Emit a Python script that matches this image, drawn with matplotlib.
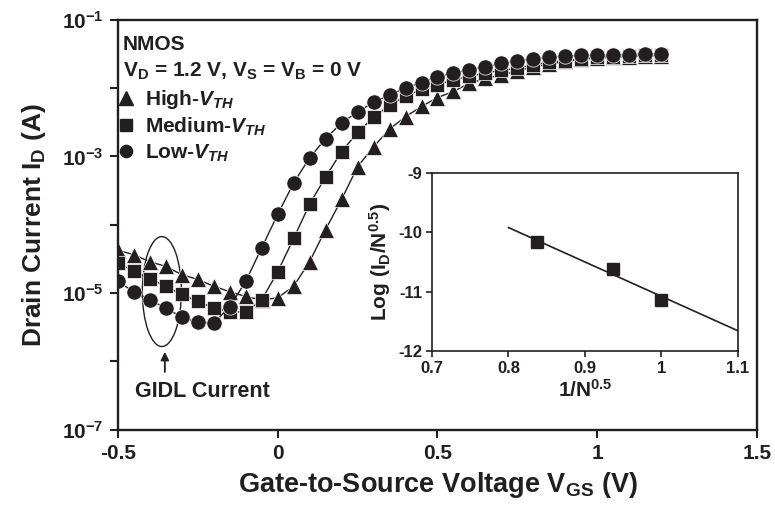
import numpy as np
import matplotlib
matplotlib.use("Agg")
import matplotlib.pyplot as plt
from matplotlib.lines import Line2D
from matplotlib.patches import Ellipse

plt.rcParams['font.family'] = ['Liberation Sans', 'DejaVu Sans']
plt.rcParams['font.weight'] = 'bold'
plt.rcParams['axes.labelweight'] = 'bold'
plt.rcParams['axes.unicode_minus'] = False
plt.rcParams['mathtext.fontset'] = 'custom'
plt.rcParams['mathtext.rm'] = 'Liberation Sans:bold'
plt.rcParams['mathtext.bf'] = 'Liberation Sans:bold'
plt.rcParams['mathtext.sf'] = 'Liberation Sans:bold'
plt.rcParams['mathtext.it'] = 'Liberation Sans:italic:bold'

INK = '#231f20'

# ---- data (main plot) ----
vgs = [-0.5, -0.45, -0.4, -0.35, -0.3, -0.25, -0.2, -0.15, -0.1, -0.05,
       0.0, 0.05, 0.1, 0.15, 0.2, 0.25, 0.3, 0.35, 0.4, 0.45,
       0.5, 0.55, 0.6, 0.65, 0.7, 0.75, 0.8, 0.85, 0.9, 0.95,
       1.0, 1.05, 1.1, 1.15, 1.2]
# log10 of drain current (A)
log_id_high = [-4.37, -4.44, -4.54, -4.61, -4.73, -4.80, -4.90, -4.98, -5.05, -5.10,
               -5.07, -4.90, -4.54, -4.07, -3.63, -3.15, -2.86, -2.60, -2.42, -2.27,
               -2.14, -2.05, -1.93, -1.86, -1.81, -1.75, -1.69, -1.65, -1.61, -1.58,
               -1.56, -1.55, -1.54, -1.53, -1.53]
log_id_medium = [-4.56, -4.68, -4.79, -4.90, -5.02, -5.12, -5.22, -5.27, -5.28, -5.10,
                 -4.69, -4.20, -3.70, -3.30, -2.93, -2.65, -2.43, -2.25, -2.12, -2.02,
                 -1.95, -1.88, -1.83, -1.78, -1.74, -1.71, -1.66, -1.62, -1.60, -1.57,
                 -1.55, -1.54, -1.53, -1.51, -1.51]
log_id_low = [-4.83, -4.98, -5.10, -5.22, -5.35, -5.43, -5.44, -5.20, -4.83, -4.34,
              -3.85, -3.39, -3.02, -2.74, -2.51, -2.35, -2.21, -2.10, -2.00, -1.92,
              -1.84, -1.78, -1.73, -1.69, -1.64, -1.60, -1.57, -1.55, -1.53, -1.52,
              -1.52, -1.51, -1.51, -1.50, -1.50]
series_labels = ['High-$V_{TH}$', 'Medium-$V_{TH}$', 'Low-$V_{TH}$']

x_ticks = [-0.5, 0, 0.5, 1, 1.5]
x_tick_labels = ['-0.5', '0', '0.5', '1', '1.5']
y_ticks = [1e-7, 1e-6, 1e-5, 1e-4, 1e-3, 1e-2, 1e-1]
y_tick_labels = [r'$\mathdefault{10^{-7}}$', '', r'$\mathdefault{10^{-5}}$', '',
                 r'$\mathdefault{10^{-3}}$', '', r'$\mathdefault{10^{-1}}$']

# ---- data (inset) ----
inv_sqrt_n = [0.837, 0.936, 1.0]
log_id_norm = [-10.17, -10.62, -11.14]
fit_x = [0.8, 1.1]
fit_y = [-9.92, -11.66]
inset_x_ticks = [0.7, 0.8, 0.9, 1.0, 1.1]
inset_x_tick_labels = ['0.7', '0.8', '0.9', '1', '1.1']
inset_y_ticks = [-12, -11, -10, -9]
inset_y_tick_labels = ['-12', '-11', '-10', '-9']

fig = plt.figure(figsize=(7.75, 5.05), dpi=100)
ax = fig.add_axes([0.152, 0.149, 0.825, 0.812])

styles = [('^', 12), ('s', 10.5), ('o', 11)]
series = [log_id_high, log_id_medium, log_id_low]
for (mk, ms), ys in zip(styles, series):
    ax.plot(vgs, 10.0 ** np.array(ys), color=INK, lw=1.0, marker=mk, ms=ms,
            mfc=INK, mec='white', mew=0.5)

ax.set_yscale('log')
ax.set_xlim(-0.5, 1.5)
ax.set_ylim(1e-7, 1e-1)
ax.set_xticks(x_ticks)
ax.set_xticklabels(x_tick_labels)
ax.set_yticks(y_ticks)
ax.set_yticklabels(y_tick_labels)
ax.minorticks_off()
ax.tick_params(direction='out', length=6, width=1.5, labelsize=15, colors=INK, pad=4)
for s in ax.spines.values():
    s.set_linewidth(1.7)
    s.set_color(INK)
ax.set_xlabel('Gate-to-Source Voltage $\\mathrm{V_{GS}}$ (V)', fontsize=19.5,
              fontweight='bold', color=INK, labelpad=5)
ax.set_ylabel('Drain Current $\\mathrm{I_D}$ (A)', fontsize=19,
              fontweight='bold', color=INK, labelpad=10)

# annotations
ax.text(0.008, 0.939, 'NMOS', transform=ax.transAxes, fontsize=15, color=INK,
        va='center', ha='left')
ax.text(0.008, 0.873, '$\\mathrm{V_D}$ = 1.2 V, $\\mathrm{V_S}$ = $\\mathrm{V_B}$ = 0 V',
        transform=ax.transAxes, fontsize=15, color=INK, va='center', ha='left')

handles = [Line2D([], [], ls='none', marker=mk, ms=ms * 0.8, color=INK)
           for mk, ms in styles]
leg = ax.legend(handles, series_labels, loc='upper left',
                bbox_to_anchor=(0.0, 0.833), frameon=False, fontsize=15,
                handlelength=0.8, handletextpad=0.5, labelspacing=0.22,
                borderpad=0.0, borderaxespad=0.0)
for t in leg.get_texts():
    t.set_color(INK)

ell = Ellipse((0.0689, 0.337), 0.061, 0.268, transform=ax.transAxes,
              fill=False, lw=1.0, ec=INK)
ax.add_patch(ell)
ax.annotate('', xy=(0.0736, 0.190), xytext=(0.0736, 0.141),
            xycoords='axes fraction', textcoords='axes fraction',
            arrowprops=dict(arrowstyle='-|>', color=INK, lw=1.3,
                            mutation_scale=12, shrinkA=0, shrinkB=0))
ax.text(0.1315, 0.0927, 'GIDL Current', transform=ax.transAxes, fontsize=15.5,
        color=INK, ha='center', va='center')

# inset
ax2 = fig.add_axes([0.5574, 0.3050, 0.3948, 0.3525])
ax2.plot(fit_x, fit_y, color=INK, lw=1.2)
ax2.plot(inv_sqrt_n, log_id_norm, ls='none', marker='s', ms=9, color=INK)
ax2.set_xlim(0.7, 1.1)
ax2.set_ylim(-12, -9)
ax2.set_xticks(inset_x_ticks)
ax2.set_xticklabels(inset_x_tick_labels)
ax2.set_yticks(inset_y_ticks)
ax2.set_yticklabels(inset_y_tick_labels)
ax2.tick_params(direction='out', length=4, width=1.2, labelsize=12, colors=INK, pad=3)
for s in ax2.spines.values():
    s.set_linewidth(1.2)
    s.set_color(INK)
ax2.set_xlabel('1/$\\mathrm{N^{0.5}}$', fontsize=15, fontweight='bold', color=INK, labelpad=2)
ax2.set_ylabel('Log ($\\mathrm{I_D}$/$\\mathrm{N^{0.5}}$)', fontsize=15,
               fontweight='bold', color=INK, labelpad=4)

fig.savefig('out.png', dpi=100)
